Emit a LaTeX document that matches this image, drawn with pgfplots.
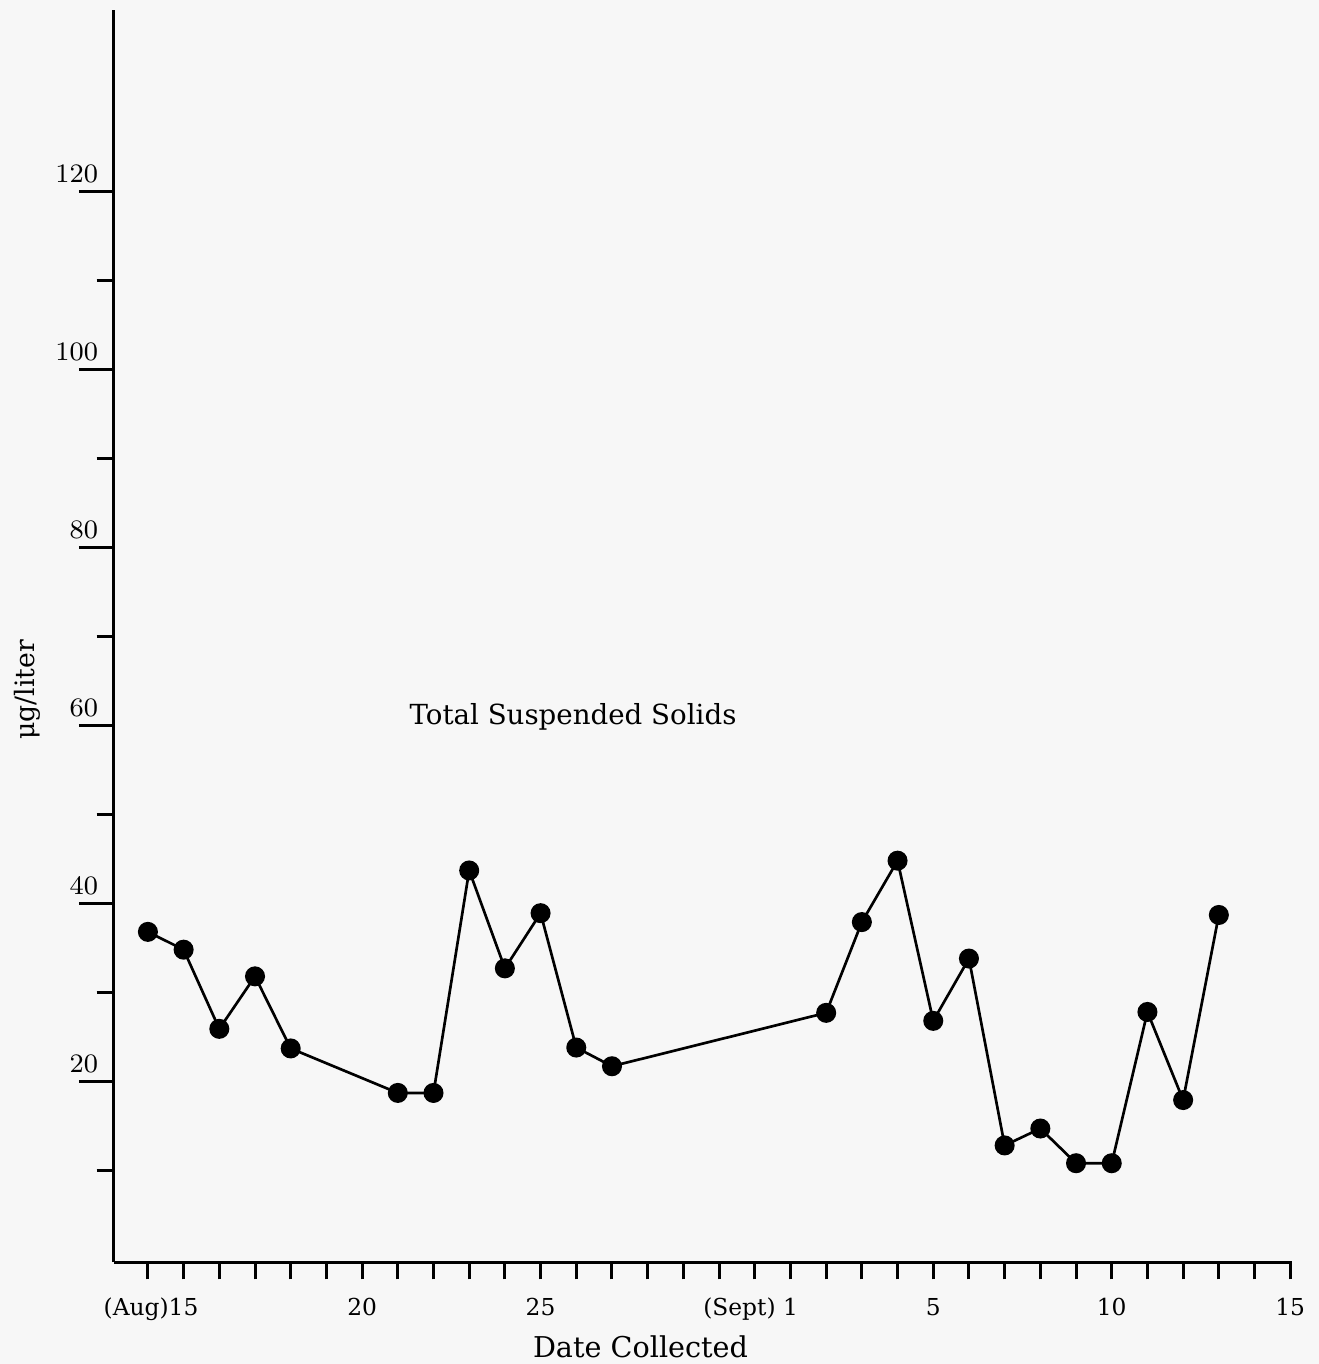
\documentclass[border=0pt]{standalone}
\usepackage{pgfplots}
\pgfplotsset{compat=1.18}
\usepackage{fontspec}
\setmainfont{DejaVu Serif}

% day number: Aug 14 = 14 ... Aug 31 = 31, Sept 1 = 32 ... Sept 15 = 46
\pgfplotstableread{
day tss
14 36.8
15 34.8
16 25.9
17 31.8
18 23.7
21 18.7
22 18.7
23 43.7
24 32.7
25 38.9
26 23.8
27 21.7
33 27.7
34 37.9
35 44.8
36 26.8
37 33.8
38 12.8
39 14.7
40 10.8
41 10.8
42 27.8
43 17.9
44 38.7
}\tss

\begin{document}
\begin{tikzpicture}
\definecolor{paper}{RGB}{247,247,247}
\path[use as bounding box, fill=paper] (-34.2pt,-30.6pt) rectangle (361.5pt,378.6pt);
\begin{axis}[
    at={(0,0)}, anchor=south west,
    scale only axis, width=353.4pt, height=375.6pt,
    xmin=13.05, xmax=46.05, ymin=-0.3, ymax=140.4,
    axis lines=left,
    axis line style={-, line width=0.9pt},
    tick align=outside,
    xtick={15,20,25,32,36,41,46},
    xticklabels={\llap{(Aug)}15,20,25,\llap{(Sept) }1,5,10,15},
    minor xtick={14,...,46},
    ytick={20,40,...,120},
    minor ytick={10,30,...,110},
    major tick length=10.5pt, minor tick length=5.2pt,
    tick style={line width=0.9pt, black},
    every major x tick/.style={draw=none},
    xticklabel style={font=\fontsize{7}{8}\selectfont, anchor=base, yshift=-5.4pt},
    yticklabel style={font=\fontsize{8.5}{9}\selectfont, anchor=south east, inner sep=0pt, xshift=5.9pt, yshift=2.4pt},
    clip=false
]
\addplot[black, line width=0.8pt, mark=*, mark size=2.6pt] table[x=day, y=tss] {\tss};
\node[anchor=base west, font=\fontsize{8.3}{10}\selectfont] at (axis cs:21.0,60.1) {Total Suspended Solids};
\node[anchor=base, font=\fontsize{8.6}{10}\selectfont] at ([yshift=-29.3pt]axis cs:27.8,0) {Date Collected};
\node[rotate=90, anchor=center, font=\fontsize{8}{10}\selectfont] at ([xshift=-26pt]axis cs:13.05,64) {μg/liter};
\end{axis}
\end{tikzpicture}
\end{document}
